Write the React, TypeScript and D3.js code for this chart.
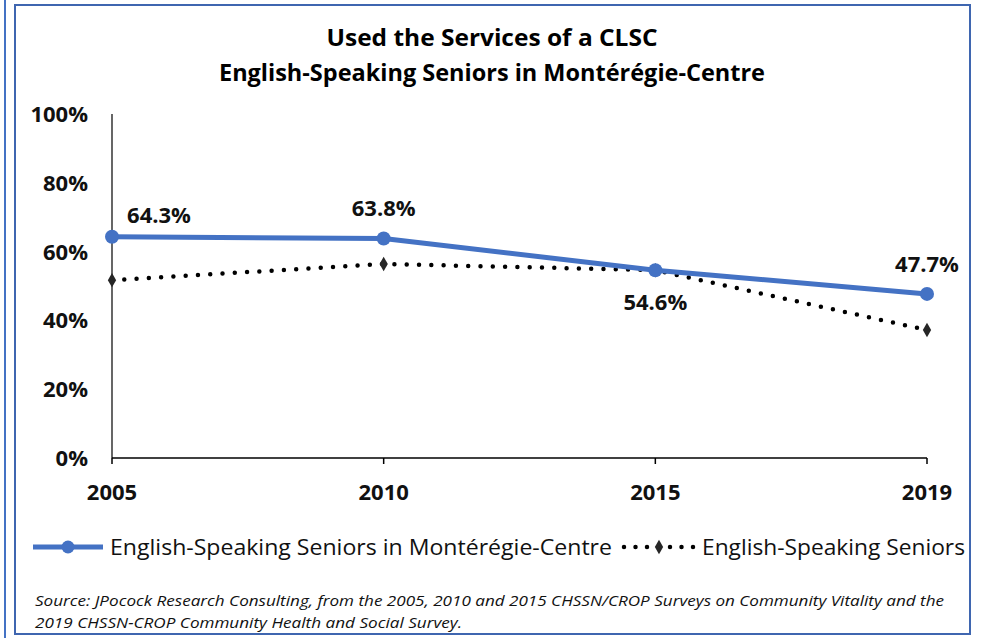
import React from "react";
import * as d3 from "d3";

const years = ["2005", "2010", "2015", "2019"];
const monteregie = [64.3, 63.8, 54.6, 47.7];
const allSeniors = [51.7, 56.4, 54.6, 37.2];
const labelPlacement = ["right", "above", "below", "above"];
const yTicks = [0, 20, 40, 60, 80, 100];
const titleLines = ["Used the Services of a CLSC", "English-Speaking Seniors in Montérégie-Centre"];
const legendNames = ["English-Speaking Seniors in Montérégie-Centre", "English-Speaking Seniors"];
const sourceLines = [
  "Source: JPocock Research Consulting, from the 2005, 2010  and 2015  CHSSN/CROP Surveys on Community Vitality and the",
  "2019  CHSSN-CROP Community Health and Social Survey.",
];

const W = 984;
const H = 638;
const BLUE = "#4472C4";
const FONT = "'Open Sans', 'Noto Sans', sans-serif";

export default function App() {
  const x = d3.scalePoint<string>().domain(years).range([112, 927]);
  const y = d3.scaleLinear().domain([0, 100]).range([458, 114]);

  const line = d3
    .line<number>()
    .x((_, i) => x(years[i])!)
    .y((d) => y(d));

  const diamond = d3.symbol().type(d3.symbolDiamond).size(60)();

  return (
    <svg
      width={W}
      height={H}
      style={{ position: "absolute", left: 0, top: 0, background: "#fff" }}
      fontFamily={FONT}
    >
      <rect x={0} y={0} width={W} height={H} fill="#fff" />
      {/* frames */}
      <line x1={5} y1={0} x2={5} y2={H} stroke={BLUE} strokeWidth={2} />
      <rect x={15} y={5} width={955} height={629} fill="none" stroke="#3F66B0" strokeWidth={2} />

      {/* title */}
      {titleLines.map((t, i) => (
        <text
          key={i}
          x={492}
          y={46 + i * 35}
          textAnchor="middle"
          fontSize={24}
          fontWeight="bold"
          fill="#000"
          textLength={i === 0 ? 331 : 546}
          lengthAdjust="spacingAndGlyphs"
        >
          {t}
        </text>
      ))}

      {/* y axis */}
      <line x1={112} y1={y(100)} x2={112} y2={y(0)} stroke="#000" strokeWidth={1.2} />
      {yTicks.map((t) => (
        <text
          key={t}
          x={88}
          y={y(t)}
          dy="0.36em"
          textAnchor="end"
          fontSize={22}
          fontWeight="bold"
          fill="#111"
        >
          {t}%
        </text>
      ))}

      {/* x axis */}
      <line x1={112} y1={y(0)} x2={927} y2={y(0)} stroke="#000" strokeWidth={1.5} />
      {years.map((yr) => (
        <g key={yr}>
          <line x1={x(yr)} y1={y(0)} x2={x(yr)} y2={y(0) + 6} stroke="#000" strokeWidth={1.5} />
          <text
            x={x(yr)}
            y={492}
            dy="0.36em"
            textAnchor="middle"
            fontSize={22}
            fontWeight="bold"
            fill="#111"
          >
            {yr}
          </text>
        </g>
      ))}

      {/* dotted series */}
      <path
        d={line(allSeniors)!}
        fill="none"
        stroke="#000"
        strokeWidth={4.5}
        strokeLinecap="round"
        strokeDasharray="0 12.3"
      />
      {allSeniors.map((v, i) => (
        <path key={i} d={diamond} transform={`translate(${x(years[i])},${y(v)})`} fill="#262626" />
      ))}

      {/* blue series */}
      <path d={line(monteregie)!} fill="none" stroke={BLUE} strokeWidth={5} strokeLinejoin="round" />
      {monteregie.map((v, i) => (
        <circle key={i} cx={x(years[i])} cy={y(v)} r={7} fill={BLUE} />
      ))}

      {/* data labels */}
      {monteregie.map((v, i) => {
        const px = x(years[i])!;
        const py = y(v);
        const p = labelPlacement[i];
        const lx = p === "right" ? px + 47 : px;
        const ly = p === "right" ? py - 22 : p === "above" ? py - 30 : py + 32;
        return (
          <text
            key={i}
            x={lx}
            y={ly}
            dy="0.36em"
            textAnchor="middle"
            fontSize={22}
            fontWeight="bold"
            fill="#111"
          >
            {v.toFixed(1)}%
          </text>
        );
      })}

      {/* legend */}
      <line x1={33} y1={547} x2={103} y2={547} stroke={BLUE} strokeWidth={5} />
      <circle cx={68} cy={547} r={6.5} fill={BLUE} />
      <text x={110} y={547} dy="0.36em" fontSize={22} fill="#111" textLength={502} lengthAdjust="spacingAndGlyphs">
        {legendNames[0]}
      </text>
      <line
        x1={624}
        y1={547}
        x2={694}
        y2={547}
        stroke="#000"
        strokeWidth={4.5}
        strokeLinecap="round"
        strokeDasharray="0 11.5"
      />
      <path d={diamond} transform="translate(659,547)" fill="#262626" />
      <text x={702} y={547} dy="0.36em" fontSize={22} fill="#111" textLength={263} lengthAdjust="spacingAndGlyphs">
        {legendNames[1]}
      </text>

      {/* source */}
      {sourceLines.map((s, i) => (
        <text
          key={i}
          x={35}
          y={601 + i * 22}
          dy="0.36em"
          fontSize={15}
          fontStyle="italic"
          fill="#111"
          textLength={i === 0 ? 909 : 427}
          lengthAdjust="spacingAndGlyphs"
        >
          {s}
        </text>
      ))}
    </svg>
  );
}
